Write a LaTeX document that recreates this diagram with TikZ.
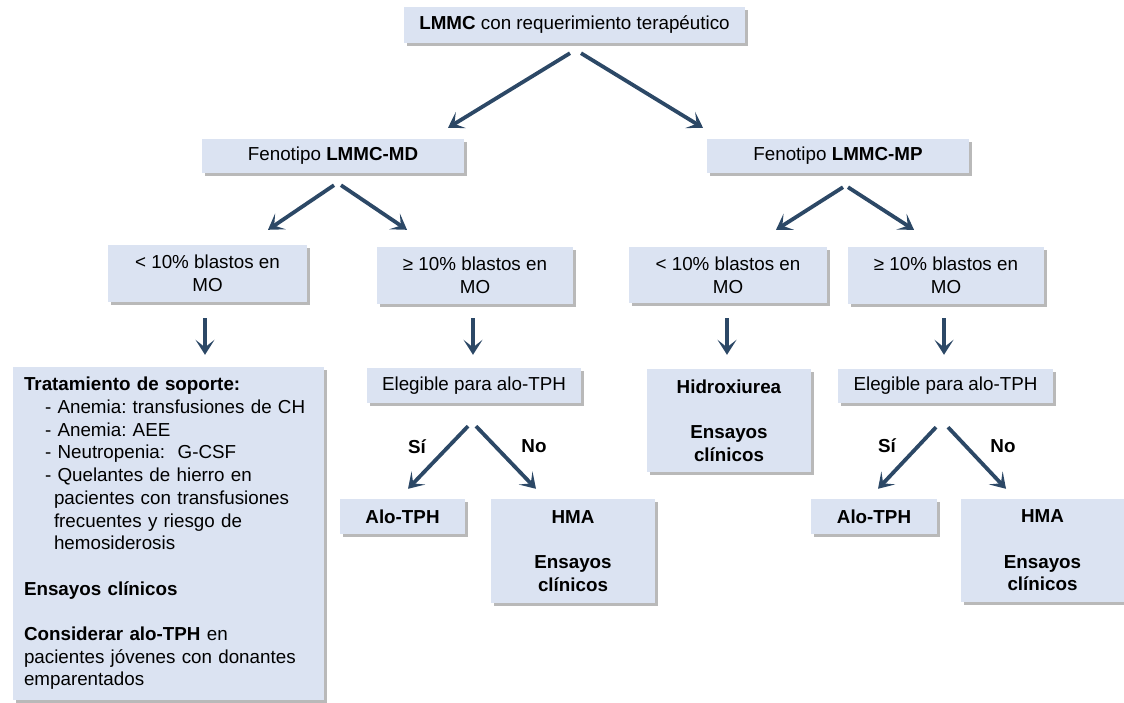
\documentclass[tikz,border=0pt]{standalone}
\usepackage{fontspec}
\setmainfont{Liberation Sans}
\frenchspacing
\usepackage{tikz}
\usetikzlibrary{arrows.meta,calc,shadows}
\definecolor{boxblue}{RGB}{219,227,242}
\definecolor{arrowblue}{RGB}{44,72,102}
\tikzset{%
	block/.style  = {fill=boxblue, inner sep=0pt, align=center, drop shadow={shadow xshift=2.5pt, shadow yshift=-3pt, fill=black!55, opacity=0.5}},
	arrow/.style  = {line width=3.8pt, draw=arrowblue, -{Stealth[length=15pt,width=19pt,inset=7.5pt]}},
	branch/.style = {font=\fontsize{18.8}{22.7}\selectfont\bfseries},
}
\begin{document}
\begin{tikzpicture}[x=1pt, y=-1pt, font=\fontsize{18.8}{22.7}\selectfont]
	\useasboundingbox (0,0) rectangle (1124,702);
	% inicio
	\node[block, minimum width=341pt, minimum height=36pt] (lmmc) at (574.5,25) {\textbf{LMMC} con requerimiento terapéutico};
	
	% fenotipos
	\node[block, minimum width=262pt, minimum height=34pt] (md) at (333,156) {Fenotipo \textbf{LMMC-MD}};
	\node[block, minimum width=262pt, minimum height=34pt] (mp) at (838,156) {Fenotipo \textbf{LMMC-MP}};
	
	% blastos en MO
	\node[block, minimum width=199pt, minimum height=57pt] (mdlow) at (207.5,273.5) {< 10\% blastos en\\MO};
	\node[block, minimum width=196pt, minimum height=57pt] (mdhigh) at (475,275.5) {≥ 10\% blastos en\\MO};
	\node[block, minimum width=198pt, minimum height=56pt] (mplow) at (728,275) {< 10\% blastos en\\MO};
	\node[block, minimum width=196pt, minimum height=57pt] (mphigh) at (946,275.5) {≥ 10\% blastos en\\MO};
	
	% tratamientos
	\node[block, minimum width=311pt, minimum height=333pt, text width=289pt, align=left] (soporte) at (168.5,533.5) {%
		\textbf{Tratamiento de soporte:}\\
		\hspace*{21pt}- Anemia: transfusiones de CH\\
		\hspace*{21pt}- Anemia: AEE\\
		\hspace*{21pt}- Neutropenia:\ \ G-CSF\\
		\hspace*{21pt}- Quelantes de hierro en\\
		\hspace*{30pt}pacientes con transfusiones\\
		\hspace*{30pt}frecuentes y riesgo de\\
		\hspace*{30pt}hemosiderosis\\[22.7pt]
		\textbf{Ensayos clínicos}\\[22.7pt]
		\textbf{Considerar alo-TPH} en\\
		pacientes jóvenes con donantes\\
		emparentados};
	\node[block, minimum width=214pt, minimum height=35pt] (mdeleg) at (474,385.5) {Elegible para alo-TPH};
	\node[block, minimum width=164pt, minimum height=103pt] (hidrox) at (729,420.5) {\textbf{Hidroxiurea}\\[22.7pt]\textbf{Ensayos}\\\textbf{clínicos}};
	\node[block, minimum width=215pt, minimum height=34pt] (mpeleg) at (945.5,386) {Elegible para alo-TPH};
	
	% alo-TPH o no
	\node[block, minimum width=125pt, minimum height=35pt] (mdalo) at (402.5,516.5) {\textbf{Alo-TPH}};
	\node[block, minimum width=164pt, minimum height=104pt] (mdhma) at (573,551) {\textbf{HMA}\\[22.7pt]\textbf{Ensayos}\\\textbf{clínicos}};
	\node[block, minimum width=126pt, minimum height=35pt] (mpalo) at (874,516.5) {\textbf{Alo-TPH}};
	\node[block, minimum width=163pt, minimum height=103pt] (mphma) at (1042.5,550.5) {\textbf{HMA}\\[22.7pt]\textbf{Ensayos}\\\textbf{clínicos}};
	
	% flechas
	\draw[arrow] ($(lmmc.south)+(-4.5,10)$) -- ($(md.north)+(115,-11)$);
	\draw[arrow] ($(lmmc.south)+(6.5,10)$) -- ($(mp.north)+(-135,-11)$);
	\draw[arrow] ($(md.south)+(1,12)$) -- ($(mdlow.north)+(60.5,-15)$);
	\draw[arrow] ($(md.south)+(8,12)$) -- ($(mdhigh.north)+(-68,-17)$);
	\draw[arrow] ($(mp.south)+(5,14)$) -- ($(mplow.north)+(48,-17)$);
	\draw[arrow] ($(mp.south)+(10,14)$) -- ($(mphigh.north)+(-32,-17)$);
	\draw[arrow] ($(mdlow.south)+(-2.5,16)$) -- ($(soporte.north)+(36.5,-12)$);
	\draw[arrow] ($(mdhigh.south)+(-2,14)$) -- ($(mdeleg.north)+(-1,-13)$);
	\draw[arrow] ($(mplow.south)+(-1,15)$) -- ($(hidrox.north)+(-2,-14)$);
	\draw[arrow] ($(mphigh.south)+(-2,14)$) -- ($(mpeleg.north)+(-1.5,-14)$);
	\draw[arrow] ($(mdeleg.south)+(-6,23)$) -- ($(mdalo.north)+(5.5,-10)$);
	\draw[arrow] ($(mdeleg.south)+(2,23)$) -- ($(mdhma.north)+(-37,-10)$);
	\draw[arrow] ($(mpeleg.south)+(-9.5,24)$) -- ($(mpalo.north)+(4,-10)$);
	\draw[arrow] ($(mpeleg.south)+(2.5,24)$) -- ($(mphma.north)+(-36.5,-10)$);
	
	% si / no
	\node[branch] (mdsi) at (417,447) {Sí};
	\node[branch] (mdno) at (534,446) {No};
	\node[branch] (mpsi) at (887,446) {Sí};
	\node[branch] (mpno) at (1003,446) {No};
\end{tikzpicture}
\end{document}
